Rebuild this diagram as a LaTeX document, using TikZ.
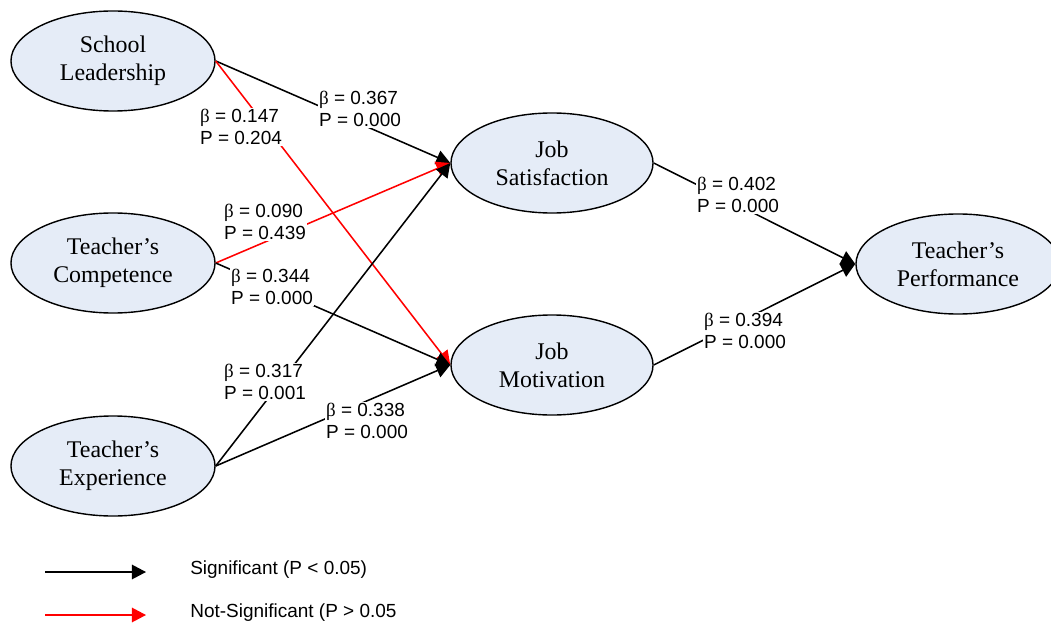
\documentclass[tikz,border=0pt]{standalone}
\usepackage{fontspec}
\setmainfont{Liberation Serif}
\newfontfamily\coeffont{Liberation Sans}
\usetikzlibrary{shapes.geometric, arrows.meta, positioning}
\definecolor{latentfill}{RGB}{229,236,247}
\tikzset{
    latent/.style={ellipse, draw=black, fill=latentfill, line width=1pt, minimum width=5.1cm, minimum height=2.5cm, align=center, inner sep=0pt, font=\fontsize{17}{20}\selectfont},
    coef/.style={fill=white, align=left, inner sep=1pt, font=\coeffont\fontsize{13.5}{15.6}\selectfont},
    legend/.style={inner sep=0pt, font=\coeffont\fontsize{13.5}{15.6}\selectfont},
    sig/.style={line width=1.1pt, -{Triangle[length=0.35cm, width=0.36cm]}},
    nonsig/.style={sig, red}
}
\newcommand{\coefbp}[2]{{\rmfamily β} = #1\\P = #2}

\begin{document}
\begin{tikzpicture}[x=0.025cm, y=-0.025cm]
    \useasboundingbox (0,0) rectangle (1051,623);

    % latent variables
    \node (lead) [latent] at (113,61) {School\\Leadership};
    \node (comp) [latent] at (113,263) {Teacher’s\\Competence};
    \node (expe) [latent] at (113,466) {Teacher’s\\Experience};
    \node (sat) [latent, minimum width=5.05cm] at (552,163) {Job\\Satisfaction};
    \node (mot) [latent, minimum width=5.05cm] at (552,365) {Job\\Motivation};
    \node (perf) [latent] at (958,264) {Teacher’s\\Performance};

    % paths
    \draw [sig] (lead.east) -- (sat.west);
    \draw [nonsig] (lead.east) -- (mot.west);
    \draw [nonsig] (comp.east) -- (sat.west);
    \draw [sig] (comp.east) -- (mot.west);
    \draw [sig] (expe.east) -- (sat.west);
    \draw [sig] (expe.east) -- (mot.west);
    \draw [sig] (sat.east) -- (perf.west);
    \draw [sig] (mot.east) -- (perf.west);

    % coefficients
    \node (c1) [coef] at (360,109) {\coefbp{0.367}{0.000}};
    \node (c2) [coef] at (241,127) {\coefbp{0.147}{0.204}};
    \node (c3) [coef] at (265,222) {\coefbp{0.090}{0.439}};
    \node (c4) [coef] at (272,287) {\coefbp{0.344}{0.000}};
    \node (c5) [coef] at (265,382) {\coefbp{0.317}{0.001}};
    \node (c6) [coef] at (367,421) {\coefbp{0.338}{0.000}};
    \node (c7) [coef] at (738,195) {\coefbp{0.402}{0.000}};
    \node (c8) [coef] at (745,331) {\coefbp{0.394}{0.000}};

    % legend
    \coordinate (sigA) at (45,572);
    \coordinate (sigB) at (146,572);
    \coordinate (nsA) at (45,615);
    \coordinate (nsB) at (146,615);
    \draw [sig] (sigA) -- (sigB);
    \draw [nonsig] (nsA) -- (nsB);
    \node (sigtxt) [legend, right=1.1cm of sigB, yshift=2pt] {Significant (P < 0.05)};
    \node (nstxt) [legend, right=1.1cm of nsB, yshift=2pt] {Not-Significant (P > 0.05};
\end{tikzpicture}
\end{document}
